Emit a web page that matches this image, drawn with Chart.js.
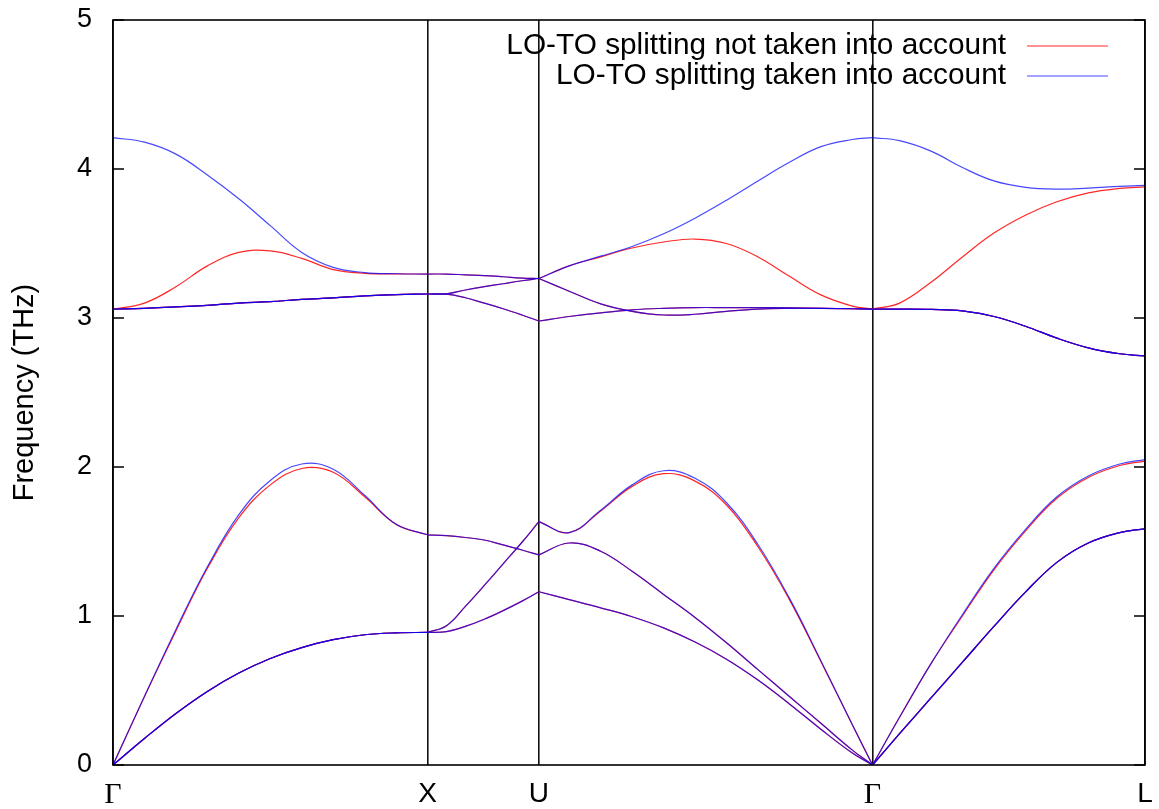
<!DOCTYPE html>
<html>
<head>
<meta charset="utf-8">
<script src="https://cdn.jsdelivr.net/npm/chart.js@4.4.1/dist/chart.umd.min.js"></script>
<style>
  body { margin: 0; background: #fff; }
  #wrap { width: 1159px; height: 809px; }
</style>
</head>
<body>
<div id="wrap"><canvas id="bandChart" width="1159" height="809"></canvas></div>
<script>
// path coordinate (2pi/a units) of the sample points, one array per segment
var kGX = [0, 0.1, 0.2, 0.3, 0.4, 0.5, 0.6, 0.7, 0.8, 0.9, 1.0];
var kXU = [1.0, 1.06, 1.12, 1.18, 1.24, 1.30, 1.3536];
var kUG = [1.3536, 1.45, 1.55, 1.65, 1.75, 1.85, 1.95, 2.05, 2.15, 2.25, 2.35, 2.4142];
var kGL = [2.4142, 2.5, 2.6, 2.7, 2.8, 2.9, 3.0, 3.1, 3.2, 3.2802];

// high symmetry points
var kPoints = [0, 1.0, 1.3536, 2.4142, 3.2802];
var kLabels = ['Γ', 'X', 'U', 'Γ', 'L'];
var yTicks = [0, 1, 2, 3, 4, 5];

// frequencies (THz), per band: [Γ-X, X-U, U-Γ, Γ-L]  -- LO-TO splitting taken into account
var band1 = [
  [0, 0.178, 0.346, 0.494, 0.617, 0.715, 0.788, 0.841, 0.874, 0.887, 0.89],
  [0.89, 0.895, 0.93, 0.978, 1.036, 1.10, 1.163],
  [1.163, 1.11, 1.055, 0.995, 0.92, 0.825, 0.71, 0.57, 0.41, 0.24, 0.08, 0],
  [0, 0.21, 0.45, 0.69, 0.93, 1.16, 1.36, 1.49, 1.56, 1.585]
];
var band2 = [
  [0, 0.178, 0.346, 0.494, 0.617, 0.715, 0.788, 0.841, 0.874, 0.887, 0.89],
  [0.89, 0.935, 1.065, 1.205, 1.35, 1.495, 1.633],
  [1.633, 1.56, 1.71, 1.88, 1.975, 1.925, 1.76, 1.48, 1.12, 0.70, 0.27, 0],
  [0, 0.21, 0.45, 0.69, 0.93, 1.16, 1.36, 1.49, 1.56, 1.585]
];
var band3 = [
  [0, 0.46, 0.91, 1.33, 1.68, 1.91, 2.02, 1.985, 1.81, 1.615, 1.545],
  [1.545, 1.539, 1.527, 1.51, 1.477, 1.443, 1.41],
  [1.41, 1.49, 1.435, 1.30, 1.145, 0.99, 0.82, 0.64, 0.46, 0.28, 0.10, 0],
  [0, 0.32, 0.68, 1.01, 1.32, 1.58, 1.80, 1.94, 2.02, 2.05]
];
var band4 = [
  [3.06, 3.065, 3.075, 3.085, 3.10, 3.11, 3.125, 3.135, 3.148, 3.157, 3.161],
  [3.161, 3.16, 3.136, 3.10, 3.062, 3.02, 2.98],
  [2.98, 3.01, 3.035, 3.055, 3.065, 3.07, 3.07, 3.07, 3.068, 3.065, 3.062, 3.06],
  [3.06, 3.06, 3.058, 3.048, 3.01, 2.945, 2.865, 2.80, 2.76, 2.745]
];
var band5 = [
  [3.06, 3.065, 3.075, 3.085, 3.10, 3.11, 3.125, 3.135, 3.148, 3.157, 3.161],
  [3.161, 3.162, 3.188, 3.21, 3.23, 3.25, 3.265],
  [3.265, 3.18, 3.095, 3.045, 3.02, 3.025, 3.045, 3.06, 3.065, 3.065, 3.062, 3.06],
  [3.06, 3.06, 3.058, 3.048, 3.01, 2.945, 2.865, 2.80, 2.76, 2.745]
];
var band6 = [
  [4.21, 4.18, 4.10, 3.96, 3.80, 3.62, 3.44, 3.34, 3.305, 3.297, 3.295],
  [3.295, 3.295, 3.29, 3.285, 3.277, 3.268, 3.265],
  [3.265, 3.35, 3.415, 3.48, 3.565, 3.67, 3.79, 3.92, 4.045, 4.15, 4.198, 4.21],
  [4.21, 4.19, 4.12, 4.01, 3.92, 3.877, 3.865, 3.872, 3.883, 3.89]
];

// without LO-TO splitting: only these bands differ
var band2NoSplit = [
  band2[0],
  band2[1],
  [1.633, 1.56, 1.705, 1.87, 1.955, 1.905, 1.745, 1.465, 1.11, 0.695, 0.27, 0],
  band2[3]
];
var band3NoSplit = [
  [0, 0.46, 0.90, 1.32, 1.66, 1.88, 1.99, 1.965, 1.80, 1.615, 1.545],
  band3[1],
  band3[2],
  [0, 0.32, 0.68, 1.0, 1.31, 1.57, 1.79, 1.93, 2.01, 2.04]
];
var band6NoSplit = [
  [3.06, 3.10, 3.21, 3.35, 3.44, 3.45, 3.40, 3.325, 3.30, 3.296, 3.295],
  band6[1],
  [3.265, 3.35, 3.41, 3.47, 3.51, 3.53, 3.50, 3.41, 3.28, 3.155, 3.08, 3.06],
  [3.06, 3.10, 3.24, 3.41, 3.57, 3.69, 3.78, 3.84, 3.87, 3.88]
];

var legendNames = ['LO-TO splitting not taken into account', 'LO-TO splitting taken into account'];
var redColor = 'rgba(255,0,0,0.85)';
var blueColor = 'rgba(0,0,255,0.72)';

var kSegments = [kGX, kXU, kUG, kGL];

// one dataset per band and path segment, so corners at X, U, Γ stay sharp
function segmentSets(segs, color, order) {
  return segs.map(function (vals, s) {
    return {
      data: vals.map(function (v, i) { return { x: kSegments[s][i], y: v }; }),
      borderColor: color,
      borderWidth: 1.2,
      pointRadius: 0,
      fill: false,
      tension: 0.4,
      order: order
    };
  });
}

var withSplit = [band1, band2, band3, band4, band5, band6];
var noSplit = [band1, band2NoSplit, band3NoSplit, band4, band5, band6NoSplit];

var datasets = [];
withSplit.forEach(function (b) { datasets = datasets.concat(segmentSets(b, blueColor, 0)); });
noSplit.forEach(function (b) { datasets = datasets.concat(segmentSets(b, redColor, 1)); });

var sansFont = 'Liberation Sans';

// frame, inward y ticks on both sides, and the gnuplot style key
var framePlugin = {
  id: 'frame',
  afterDatasetsDraw: function (chart) {
    var ctx = chart.ctx;
    var a = chart.chartArea;
    var y = chart.scales.y;
    ctx.save();
    ctx.strokeStyle = '#000';
    ctx.lineWidth = 1.6;
    ctx.strokeRect(a.left, a.top, a.right - a.left, a.bottom - a.top);
    ctx.beginPath();
    yTicks.forEach(function (v) {
      var py = y.getPixelForValue(v);
      ctx.moveTo(a.left, py); ctx.lineTo(a.left + 11, py);
      ctx.moveTo(a.right, py); ctx.lineTo(a.right - 11, py);
    });
    ctx.stroke();

    ctx.font = '29.8px "' + sansFont + '"';
    ctx.fillStyle = '#000';
    ctx.textAlign = 'right';
    ctx.textBaseline = 'middle';
    var colors = [redColor, blueColor];
    legendNames.forEach(function (name, i) {
      var ly = 46 + i * 30;
      ctx.fillText(name, 1006, ly);
      ctx.strokeStyle = colors[i];
      ctx.lineWidth = 1.2;
      ctx.beginPath();
      ctx.moveTo(1027, ly);
      ctx.lineTo(1108, ly);
      ctx.stroke();
    });
    ctx.restore();
  }
};

var ctx = document.getElementById('bandChart').getContext('2d');
var bandChart = new Chart(ctx, {
  type: 'line',
  data: { datasets: datasets },
  options: {
    responsive: false,
    animation: false,
    layout: { padding: { top: 20, right: 14, left: 0, bottom: 0 } },
    plugins: {
      legend: { display: false },
      tooltip: { enabled: false }
    },
    scales: {
      x: {
        type: 'linear',
        min: 0,
        max: kPoints[kPoints.length - 1],
        afterBuildTicks: function (scale) {
          scale.ticks = kPoints.map(function (v) { return { value: v }; });
        },
        afterFit: function (scale) {
          scale.height = 44;
          scale.paddingLeft = 0;
          scale.paddingRight = 0;
        },
        ticks: {
          autoSkip: false,
          maxRotation: 0,
          padding: 12,
          color: '#000',
          font: function (c) {
            var lab = c.tick ? kLabels[kPoints.indexOf(c.tick.value)] : '';
            return lab === 'Γ'
              ? { family: 'Liberation Serif', size: 30 }
              : { family: sansFont, size: 28 };
          },
          callback: function (v) { return kLabels[kPoints.indexOf(v)]; }
        },
        grid: { color: '#111', lineWidth: 1.6, drawTicks: false },
        border: { display: false }
      },
      y: {
        min: 0,
        max: 5,
        afterBuildTicks: function (scale) {
          scale.ticks = yTicks.map(function (v) { return { value: v }; });
        },
        afterFit: function (scale) {
          scale.width = 113;
          scale.paddingTop = 0;
          scale.paddingBottom = 0;
        },
        ticks: {
          padding: 21,
          color: '#000',
          font: { family: sansFont, size: 27 }
        },
        grid: { display: false, drawTicks: false },
        border: { display: false },
        title: {
          display: true,
          text: 'Frequency (THz)',
          color: '#000',
          font: { family: sansFont, size: 29 },
          padding: { top: 8, bottom: 0 }
        }
      }
    }
  },
  plugins: [framePlugin]
});
</script>
</body>
</html>
